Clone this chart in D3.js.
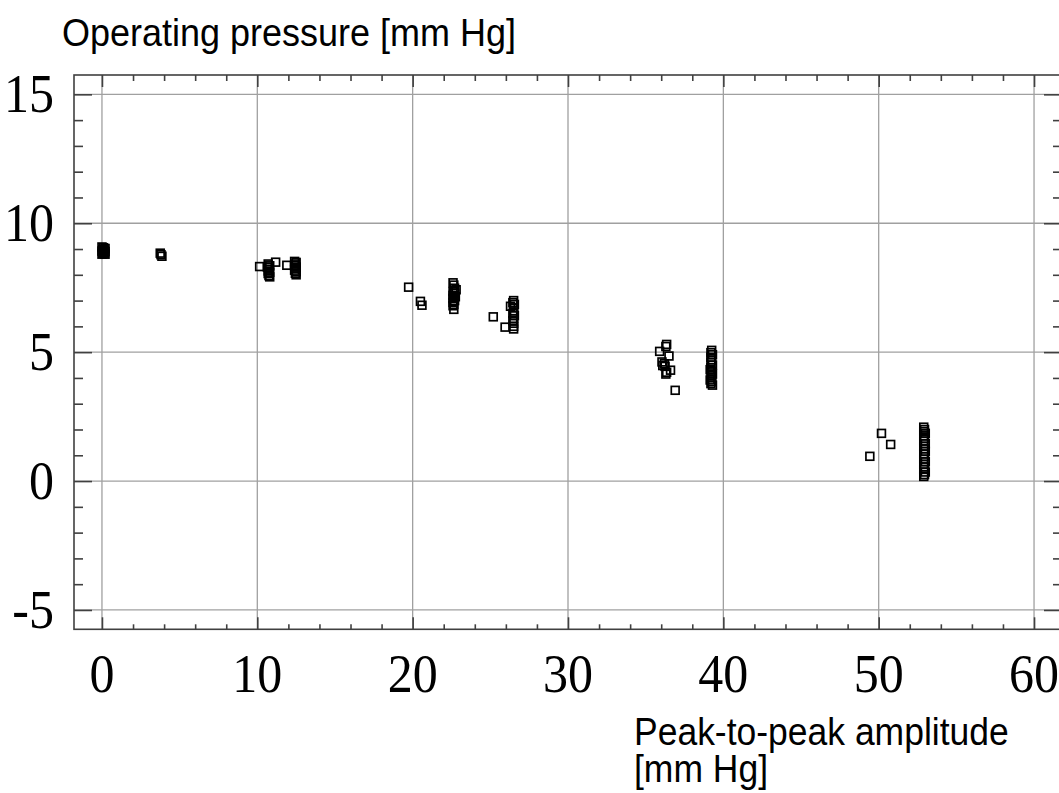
<!DOCTYPE html>
<html>
<head>
<meta charset="utf-8">
<script src="https://cdn.jsdelivr.net/npm/d3@7"></script>
<style>
  body { margin: 0; background: #fff; }
  svg { display: block; }
</style>
</head>
<body>
<div id="wrapper"></div>
<script>
// # Data: [amplitude, pressure], one list per cluster
const clusterZero = [
  [0.0, 9.08], [0.1, 9.05], [0.2, 9.02], [0.05, 8.98], [0.15, 8.95], [0.0, 8.92],
  [0.2, 8.9], [0.1, 8.87], [0.05, 8.84], [0.15, 8.82], [0.0, 8.8], [0.2, 8.8],
];
const clusterFour = [[3.75, 8.84], [3.8, 8.78], [3.86, 8.72]];
const clusterTen = [
  [10.15, 8.32], [11.18, 8.49], [11.9, 8.37],
  [10.7, 8.42], [10.8, 8.35], [10.65, 8.3], [10.75, 8.22], [10.7, 8.15],
  [10.8, 8.1], [10.7, 8.05], [10.75, 7.97], [10.8, 7.92],
  [12.4, 8.52], [12.5, 8.48], [12.45, 8.42], [12.4, 8.36], [12.5, 8.3],
  [12.45, 8.25], [12.4, 8.18], [12.5, 8.12], [12.45, 8.06], [12.5, 8.0],
];
const clusterTwenty = [
  [19.74, 7.52], [20.5, 6.97], [20.6, 6.82],
  [22.6, 7.69], [22.65, 7.6], [22.7, 7.48], [22.8, 7.42], [22.6, 7.35],
  [22.7, 7.28], [22.6, 7.2], [22.75, 7.15], [22.6, 7.08], [22.7, 7.0],
  [22.6, 6.93], [22.65, 6.85], [22.6, 6.8], [22.65, 6.66],
  [25.19, 6.37], [25.95, 5.97],
  [26.5, 7.0], [26.45, 6.92], [26.55, 6.85], [26.3, 6.78], [26.5, 6.72],
  [26.5, 6.6], [26.45, 6.5], [26.55, 6.42], [26.5, 6.3], [26.45, 6.22],
  [26.5, 6.12], [26.5, 6.0], [26.5, 5.9],
];
const clusterThirtySix = [
  [36.35, 5.3], [36.3, 5.22], [35.9, 5.03], [36.5, 4.85], [36.05, 4.62],
  [36.2, 4.55], [36.1, 4.48], [36.25, 4.45], [36.6, 4.3], [36.35, 4.22],
  [36.3, 4.15], [36.9, 3.52],
];
const clusterThirtyNine = [
  [39.25, 5.07], [39.2, 4.98], [39.3, 4.9], [39.2, 4.8], [39.25, 4.7],
  [39.2, 4.6], [39.3, 4.5], [39.2, 4.4], [39.15, 4.32], [39.25, 4.25],
  [39.3, 4.15], [39.2, 4.08], [39.25, 4.0], [39.15, 3.92], [39.25, 3.85],
  [39.2, 3.78], [39.3, 3.72],
];
const clusterFifty = [
  [49.43, 0.96], [50.18, 1.85], [50.77, 1.42],
  [52.9, 2.09], [52.95, 2.0], [52.9, 1.92], [53.0, 1.85], [52.9, 1.75],
  [52.95, 1.65], [52.9, 1.55], [53.0, 1.45], [52.9, 1.35], [52.95, 1.25],
  [53.0, 1.15], [52.9, 1.05], [52.95, 0.95], [52.9, 0.85], [53.0, 0.75],
  [52.9, 0.65], [52.95, 0.55], [52.9, 0.45], [53.0, 0.35], [52.95, 0.25],
  [52.9, 0.18],
];

const xMajorTicks = [0, 10, 20, 30, 40, 50, 60];
const yMajorTicks = [-5, 0, 5, 10, 15];
const yTitle = "Operating pressure [mm Hg]";
const xTitleLines = ["Peak-to-peak amplitude", "[mm Hg]"];

function drawScatter() {
  const dataset = [
    ...clusterZero, ...clusterFour, ...clusterTen, ...clusterTwenty,
    ...clusterThirtySix, ...clusterThirtyNine, ...clusterFifty,
  ];
  const xAccessor = d => d[0];
  const yAccessor = d => d[1];

  // # Dimensions
  const dimensions = {
    width: 1059,
    height: 793,
    frame: { left: 74, top: 75, right: 1062, bottom: 629.3 },
  };

  const wrapper = d3.select("#wrapper")
    .append("svg")
    .attr("width", dimensions.width)
    .attr("height", dimensions.height);

  // # Scales (frame padded a bit past the data range)
  const xScale = d3.scaleLinear()
    .domain([-1.8, 61.8])
    .range([dimensions.frame.left, dimensions.frame.right]);
  const yScale = d3.scaleLinear()
    .domain([-5.75, 15.75])
    .range([dimensions.frame.bottom, dimensions.frame.top]);

  const xMinor = d3.range(0, 61, 2).filter(v => v % 10 !== 0);
  const yMinor = d3.range(-5, 16, 1).filter(v => v % 5 !== 0);

  const f = dimensions.frame;
  const ink = "#404040";

  // # Grid
  const grid = wrapper.append("g")
    .attr("stroke", "#a0a0a0")
    .attr("stroke-width", 1.3);
  grid.selectAll(".vx").data(xMajorTicks).join("line")
    .attr("x1", d => xScale(d)).attr("x2", d => xScale(d))
    .attr("y1", f.top).attr("y2", f.bottom);
  grid.selectAll(".hy").data(yMajorTicks).join("line")
    .attr("x1", f.left).attr("x2", f.right)
    .attr("y1", d => yScale(d)).attr("y2", d => yScale(d));

  // # Frame and ticks, drawn with d3 axes on all four sides
  const styleAxis = g => {
    g.select(".domain").remove();
    g.selectAll("text").remove();
    g.selectAll("line").attr("stroke", ink).attr("stroke-width", 1.6);
  };
  const sides = [
    { gen: d3.axisTop, scale: xScale, pos: `translate(0,${f.top})`, major: 12, minor: 6, maj: xMajorTicks, min: xMinor },
    { gen: d3.axisBottom, scale: xScale, pos: `translate(0,${f.bottom})`, major: 12, minor: 5, maj: xMajorTicks, min: xMinor },
    { gen: d3.axisLeft, scale: yScale, pos: `translate(${f.left},0)`, major: 18, minor: 9, maj: yMajorTicks, min: yMinor },
    { gen: d3.axisRight, scale: yScale, pos: `translate(${f.right},0)`, major: 18, minor: 9, maj: yMajorTicks, min: yMinor },
  ];
  sides.forEach(s => {
    // inward ticks: negative tick size
    wrapper.append("g").attr("transform", s.pos)
      .call(s.gen(s.scale).tickValues(s.maj).tickSizeInner(-s.major).tickSizeOuter(0))
      .call(styleAxis);
    wrapper.append("g").attr("transform", s.pos)
      .call(s.gen(s.scale).tickValues(s.min).tickSizeInner(-s.minor).tickSizeOuter(0))
      .call(styleAxis);
  });

  wrapper.append("rect")
    .attr("x", f.left).attr("y", f.top)
    .attr("width", f.right - f.left).attr("height", f.bottom - f.top)
    .attr("fill", "none")
    .attr("stroke", ink)
    .attr("stroke-width", 1.6);

  // # Points: hollow squares
  const size = 7.8;
  wrapper.append("g")
    .selectAll("rect")
    .data(dataset)
    .join("rect")
    .attr("x", d => xScale(xAccessor(d)) - size / 2)
    .attr("y", d => yScale(yAccessor(d)) - size / 2)
    .attr("width", size)
    .attr("height", size)
    .attr("fill", "none")
    .attr("stroke", "#000")
    .attr("stroke-width", 1.7);

  // # Tick labels (serif, slightly stretched tall like the original)
  const stretch = "scale(1,1.1)";
  wrapper.append("g").selectAll("text").data(yMajorTicks).join("text")
    .attr("transform", d => `translate(54,${yScale(d) + 18}) ${stretch}`)
    .attr("text-anchor", "end")
    .style("font-family", "'Liberation Serif', 'Times New Roman', serif")
    .style("font-size", "50px")
    .attr("fill", "#000")
    .text(d => d);

  wrapper.append("g").selectAll("text").data(xMajorTicks).join("text")
    .attr("transform", d => `translate(${xScale(d)},692) ${stretch}`)
    .attr("text-anchor", "middle")
    .style("font-family", "'Liberation Serif', 'Times New Roman', serif")
    .style("font-size", "50px")
    .attr("fill", "#000")
    .text(d => d);

  // # Axis titles
  wrapper.append("text")
    .attr("transform", `translate(62,46) ${stretch}`)
    .style("font-family", "'Liberation Sans', Arial, sans-serif")
    .style("font-size", "36px")
    .attr("fill", "#000")
    .text(yTitle);

  // two-line x title kept in one text element
  const xTitle = wrapper.append("text")
    .attr("transform", `translate(634,745) ${stretch}`)
    .style("font-family", "'Liberation Sans', Arial, sans-serif")
    .style("font-size", "35.5px")
    .attr("fill", "#000");
  xTitle.selectAll("tspan").data(xTitleLines).join("tspan")
    .attr("x", 0)
    .attr("y", (d, i) => i * 33.6)
    .text(d => d);
}
drawScatter();
</script>
</body>
</html>
